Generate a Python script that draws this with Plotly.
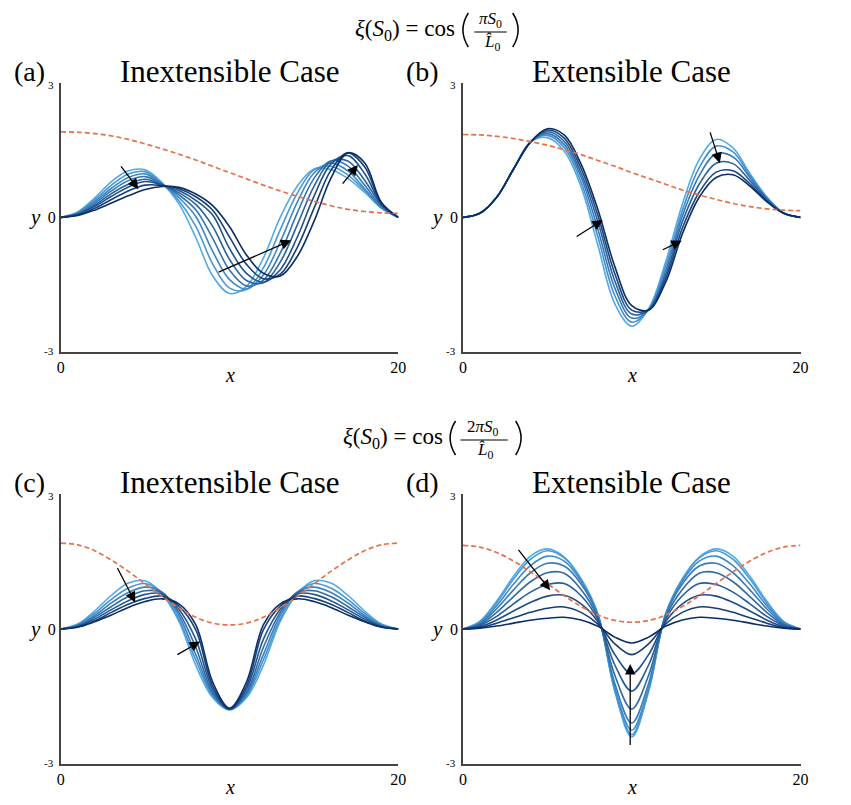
import plotly.graph_objects as go

X = list(range(21))

# ---- (a) inextensible, xi = cos(pi S0 / L0), light -> dark
a_curves = [
    [0, 0.12, 0.43, 0.80, 1.04, 1.06, 0.77, 0.30, -0.45, -1.31, -1.70, -1.54, -0.91, 0.00, 0.69, 1.08, 1.07, 0.87, 0.56, 0.20, 0],
    [0, 0.11, 0.39, 0.72, 0.97, 1.02, 0.76, 0.37, -0.20, -1.04, -1.58, -1.61, -1.13, -0.28, 0.53, 1.06, 1.14, 0.95, 0.60, 0.21, 0],
    [0, 0.10, 0.35, 0.65, 0.89, 0.97, 0.75, 0.44, 0.02, -0.76, -1.39, -1.60, -1.29, -0.55, 0.33, 0.99, 1.21, 1.04, 0.64, 0.22, 0],
    [0, 0.08, 0.31, 0.59, 0.82, 0.91, 0.74, 0.50, 0.17, -0.47, -1.18, -1.53, -1.40, -0.80, 0.09, 0.87, 1.26, 1.15, 0.72, 0.24, 0],
    [0, 0.075, 0.27, 0.53, 0.74, 0.85, 0.73, 0.55, 0.29, -0.20, -0.94, -1.41, -1.46, -1.00, -0.18, 0.69, 1.25, 1.26, 0.83, 0.27, 0],
    [0, 0.066, 0.24, 0.47, 0.68, 0.80, 0.72, 0.60, 0.38, 0.05, -0.70, -1.25, -1.45, -1.17, -0.45, 0.47, 1.19, 1.38, 0.98, 0.29, 0],
    [0, 0.053, 0.20, 0.40, 0.59, 0.72, 0.71, 0.64, 0.46, 0.16, -0.44, -1.05, -1.37, -1.27, -0.68, 0.20, 1.05, 1.44, 1.13, 0.31, 0],
    [0, 0.04, 0.16, 0.32, 0.48, 0.62, 0.69, 0.67, 0.52, 0.26, -0.21, -0.84, -1.25, -1.31, -0.88, -0.09, 0.87, 1.44, 1.22, 0.33, 0],
]
a_dash = [1.91, 1.90, 1.87, 1.82, 1.74, 1.64, 1.53, 1.41, 1.28, 1.14, 1.00,
          0.86, 0.72, 0.59, 0.47, 0.36, 0.26, 0.18, 0.13, 0.10, 0.09]

# ---- (b) extensible
b_curves = [
    [0, 0.09, 0.45, 1.08, 1.68, 1.78, 1.48, 0.68, -0.63, -1.93, -2.43, -2.04, -1.01, 0.29, 1.29, 1.74, 1.55, 0.98, 0.46, 0.10, 0],
    [0, 0.09, 0.45, 1.08, 1.68, 1.83, 1.56, 0.79, -0.44, -1.75, -2.34, -2.06, -1.11, 0.15, 1.11, 1.59, 1.46, 0.94, 0.44, 0.10, 0],
    [0, 0.09, 0.45, 1.08, 1.68, 1.87, 1.63, 0.90, -0.27, -1.58, -2.25, -2.07, -1.21, 0.03, 0.93, 1.42, 1.35, 0.89, 0.42, 0.10, 0],
    [0, 0.09, 0.45, 1.08, 1.68, 1.91, 1.70, 0.99, -0.10, -1.42, -2.16, -2.07, -1.30, -0.10, 0.74, 1.21, 1.20, 0.82, 0.40, 0.09, 0],
    [0, 0.09, 0.45, 1.08, 1.68, 1.95, 1.77, 1.09, 0.04, -1.26, -2.07, -2.07, -1.38, -0.24, 0.56, 1.01, 1.04, 0.75, 0.37, 0.09, 0],
    [0, 0.09, 0.45, 1.08, 1.68, 1.98, 1.84, 1.19, 0.17, -1.10, -1.97, -2.07, -1.46, -0.37, 0.45, 0.89, 0.95, 0.70, 0.35, 0.09, 0],
]
b_dash = [1.85, 1.84, 1.81, 1.76, 1.69, 1.61, 1.51, 1.40, 1.27, 1.14, 1.00,
          0.87, 0.74, 0.61, 0.50, 0.40, 0.31, 0.24, 0.19, 0.16, 0.15]

# ---- (c) inextensible, xi = cos(2 pi S0 / L0)
c_curves = [
    [0, 0.11, 0.40, 0.75, 1.02, 1.07, 0.78, 0.17, -0.81, -1.53, -1.80, -1.53, -0.81, 0.17, 0.78, 1.07, 1.02, 0.75, 0.40, 0.11, 0],
    [0, 0.10, 0.35, 0.66, 0.91, 1.01, 0.80, 0.22, -0.69, -1.49, -1.79, -1.49, -0.69, 0.22, 0.80, 1.01, 0.91, 0.66, 0.35, 0.10, 0],
    [0, 0.08, 0.30, 0.58, 0.81, 0.93, 0.82, 0.30, -0.57, -1.45, -1.79, -1.45, -0.57, 0.30, 0.82, 0.93, 0.81, 0.58, 0.30, 0.08, 0],
    [0, 0.07, 0.26, 0.50, 0.72, 0.85, 0.81, 0.37, -0.41, -1.41, -1.78, -1.41, -0.41, 0.37, 0.81, 0.85, 0.72, 0.50, 0.26, 0.07, 0],
    [0, 0.06, 0.22, 0.43, 0.63, 0.77, 0.78, 0.44, -0.23, -1.34, -1.78, -1.34, -0.23, 0.44, 0.78, 0.77, 0.63, 0.43, 0.22, 0.06, 0],
    [0, 0.05, 0.18, 0.37, 0.55, 0.68, 0.73, 0.51, -0.02, -1.27, -1.77, -1.27, -0.02, 0.51, 0.73, 0.68, 0.55, 0.37, 0.18, 0.05, 0],
    [0, 0.04, 0.16, 0.31, 0.48, 0.61, 0.67, 0.56, 0.09, -1.18, -1.76, -1.18, 0.09, 0.56, 0.67, 0.61, 0.48, 0.31, 0.16, 0.04, 0],
]
c_dash = [1.91, 1.87, 1.74, 1.53, 1.28, 1.00, 0.72, 0.47, 0.26, 0.13, 0.09,
          0.13, 0.26, 0.47, 0.72, 1.00, 1.28, 1.53, 1.74, 1.87, 1.91]

# ---- (d) extensible
d_curves = [
    [0, 0.17, 0.62, 1.17, 1.62, 1.78, 1.60, 1.12, 0.33, -1.39, -2.40, -1.39, 0.33, 1.12, 1.60, 1.78, 1.62, 1.17, 0.62, 0.17, 0],
    [0, 0.16, 0.58, 1.11, 1.55, 1.74, 1.58, 1.10, 0.32, -1.36, -2.35, -1.36, 0.32, 1.10, 1.58, 1.74, 1.55, 1.11, 0.58, 0.16, 0],
    [0, 0.14, 0.52, 1.00, 1.41, 1.62, 1.51, 1.06, 0.31, -1.31, -2.25, -1.31, 0.31, 1.06, 1.51, 1.62, 1.41, 1.00, 0.52, 0.14, 0],
    [0, 0.12, 0.45, 0.87, 1.25, 1.46, 1.40, 1.00, 0.29, -1.21, -2.09, -1.21, 0.29, 1.00, 1.40, 1.46, 1.25, 0.87, 0.45, 0.12, 0],
    [0, 0.10, 0.37, 0.72, 1.05, 1.25, 1.24, 0.88, 0.25, -1.03, -1.78, -1.03, 0.25, 0.88, 1.24, 1.25, 1.05, 0.72, 0.37, 0.10, 0],
    [0, 0.08, 0.28, 0.56, 0.82, 0.99, 1.01, 0.74, 0.21, -0.80, -1.38, -0.80, 0.21, 0.74, 1.01, 0.99, 0.82, 0.56, 0.28, 0.08, 0],
    [0, 0.05, 0.20, 0.40, 0.59, 0.73, 0.75, 0.56, 0.16, -0.57, -0.99, -0.57, 0.16, 0.56, 0.75, 0.73, 0.59, 0.40, 0.20, 0.05, 0],
    [0, 0.03, 0.13, 0.25, 0.37, 0.46, 0.49, 0.37, 0.11, -0.33, -0.57, -0.33, 0.11, 0.37, 0.49, 0.46, 0.37, 0.25, 0.13, 0.03, 0],
    [0, 0.02, 0.065, 0.13, 0.195, 0.24, 0.26, 0.20, 0.06, -0.18, -0.31, -0.18, 0.06, 0.20, 0.26, 0.24, 0.195, 0.13, 0.065, 0.02, 0],
]
d_dash = [1.86, 1.82, 1.70, 1.51, 1.27, 1.01, 0.74, 0.50, 0.31, 0.19, 0.15,
          0.19, 0.31, 0.50, 0.74, 1.01, 1.27, 1.51, 1.70, 1.82, 1.86]

panel_titles = ["Inextensible Case", "Extensible Case", "Inextensible Case", "Extensible Case"]
panel_tags = ["(a)", "(b)", "(c)", "(d)"]

# the page body adds an 8px margin, so the figure is drawn 16px smaller
# and all pixel positions below are given in window coordinates
OFF = 8
W, H = 851 - 2 * OFF, 805 - 2 * OFF
FONT = "Liberation Serif"
LIGHT = (82, 170, 232)
DARK = (12, 46, 102)
DASH_COLOR = "#E6704A"


def blues(n):
    out = []
    for i in range(n):
        t = i / (n - 1)
        r, g, b = (round(LIGHT[j] + (DARK[j] - LIGHT[j]) * t) for j in range(3))
        out.append(f"rgb({r},{g},{b})")
    return out


def px(x):
    return (x - OFF) / W


def py(y):
    return 1 - (y - OFF) / H


def label(x, y, text, size, xanchor="center", yanchor="middle"):
    return dict(x=px(x), y=py(y), xref="paper", yref="paper", text=text,
                showarrow=False, xanchor=xanchor, yanchor=yanchor,
                font=dict(size=size, family=FONT, color="black"))


# axes boxes in window pixels: (left, right, top, bottom)
boxes = [(57.5, 400, 83, 351.7), (465.5, 808, 83, 351.7),
         (57.5, 400, 494, 764), (465.5, 808, 494, 764)]

fig = go.Figure()
panels = [(a_curves, a_dash), (b_curves, b_dash), (c_curves, c_dash), (d_curves, d_dash)]
for i, (curves, dash) in enumerate(panels):
    sfx = "" if i == 0 else str(i + 1)
    cols = blues(len(curves))
    for ys, col in zip(curves, cols):
        fig.add_trace(go.Scatter(x=X, y=ys, mode="lines", xaxis="x" + sfx, yaxis="y" + sfx,
                                 line=dict(color=col, width=1.6, shape="spline", smoothing=1.0),
                                 showlegend=False, hoverinfo="skip"))
    fig.add_trace(go.Scatter(x=X, y=dash, mode="lines", xaxis="x" + sfx, yaxis="y" + sfx,
                             line=dict(color=DASH_COLOR, width=1.7, dash="5px,3px", shape="spline"),
                             showlegend=False, hoverinfo="skip"))

layout = dict(width=W, height=H, margin=dict(l=0, r=0, t=0, b=0),
              paper_bgcolor="white", plot_bgcolor="white",
              font=dict(family=FONT, color="black"), showlegend=False)
for i, (l, r, t, b) in enumerate(boxes):
    sfx = "" if i == 0 else str(i + 1)
    layout["xaxis" + sfx] = dict(domain=[px(l), px(r)], range=[0, 20], anchor="y" + sfx,
                                 showline=True, linecolor="#444", linewidth=1.5,
                                 showgrid=False, zeroline=False, ticks="",
                                 tickvals=[0, 20], ticktext=["0", "20"],
                                 tickfont=dict(size=16, family=FONT, color="black"))
    layout["yaxis" + sfx] = dict(domain=[py(b), py(t)], range=[-3, 3], anchor="x" + sfx,
                                 showline=True, linecolor="#444", linewidth=1.5,
                                 showgrid=False, zeroline=False, ticks="",
                                 tickvals=[0], ticktext=["0"],
                                 tickfont=dict(size=16, family=FONT, color="black"))
fig.update_layout(**layout)

ann = []
for i, (l, r, t, b) in enumerate(boxes):
    title_y = t - 12
    ann.append(label((l + r) / 2, title_y, panel_titles[i], 31))
    tag_x = OFF if i % 2 == 0 else l - 60
    ann.append(label(tag_x, title_y, panel_tags[i], 28, "left"))
    ann.append(label(l - 26, (t + b) / 2, "<i>y</i>", 21))
    ann.append(label((l + r) / 2, b + 23, "<i>x</i>", 20))
    # small end-of-range tick labels on the y axis
    ann.append(label(l - 5, t + 2, "3", 11, "right"))
    ann.append(label(l - 5, b - 1, "-3", 11, "right"))

# arrows: (panel, head_x, head_y, tail_x, tail_y)
arrows = [
    (0, 4.6, 0.63, 3.5, 1.17), (0, 13.65, -0.51, 9.26, -1.24), (0, 17.6, 1.17, 16.63, 0.72),
    (1, 8.28, -0.06, 6.65, -0.45), (1, 12.96, -0.52, 11.75, -0.74), (1, 15.22, 1.21, 14.62, 1.93),
    (2, 4.41, 0.59, 3.31, 1.39), (2, 8.25, -0.28, 6.82, -0.59),
    (3, 5.17, 0.86, 3.22, 1.79), (3, 9.91, -0.78, 9.91, -2.61),
]
for p, hx, hy, tx, ty in arrows:
    sfx = "" if p == 0 else str(p + 1)
    ann.append(dict(x=hx, y=hy, ax=tx, ay=ty, xref="x" + sfx, yref="y" + sfx,
                    axref="x" + sfx, ayref="y" + sfx, text="", showarrow=True,
                    arrowhead=2, arrowsize=1.6, arrowwidth=1.3, arrowcolor="black"))


def paren(x_end, x_ctrl, y_top, y_bot):
    p0 = f"M {px(x_end)},{py(y_top)} Q {px(x_ctrl)},{py((y_top + y_bot) / 2)} {px(x_end)},{py(y_bot)}"
    fig.add_shape(type="path", xref="paper", yref="paper", path=p0,
                  line=dict(color="black", width=1.5))


def formula(num, x_right, x_num, y_mid, line_l, line_r, lp, rp):
    items = [
        label(x_right, y_mid, "<i>ξ</i>(<i>S</i><sub>0</sub>) = cos", 23, "right"),
        label(x_num, y_mid - 10, num, 17),
        label(x_num + 2, y_mid + 13, "<i>L\u0302</i><sub>0</sub>", 17),
    ]
    fig.add_shape(type="line", xref="paper", yref="paper", x0=px(line_l), x1=px(line_r),
                  y0=py(y_mid + 2), y1=py(y_mid + 2), line=dict(color="black", width=1))
    paren(lp, lp - 11, y_mid - 17, y_mid + 17)
    paren(rp, rp + 11, y_mid - 17, y_mid + 17)
    return items


ann += formula("<i>πS</i><sub>0</sub>", 459, 493, 30, 477, 510, 471, 516)
ann += formula("2<i>πS</i><sub>0</sub>", 447, 486, 438, 463, 511, 458, 519)

fig.update_layout(annotations=ann)
fig.write_html("out.html")
